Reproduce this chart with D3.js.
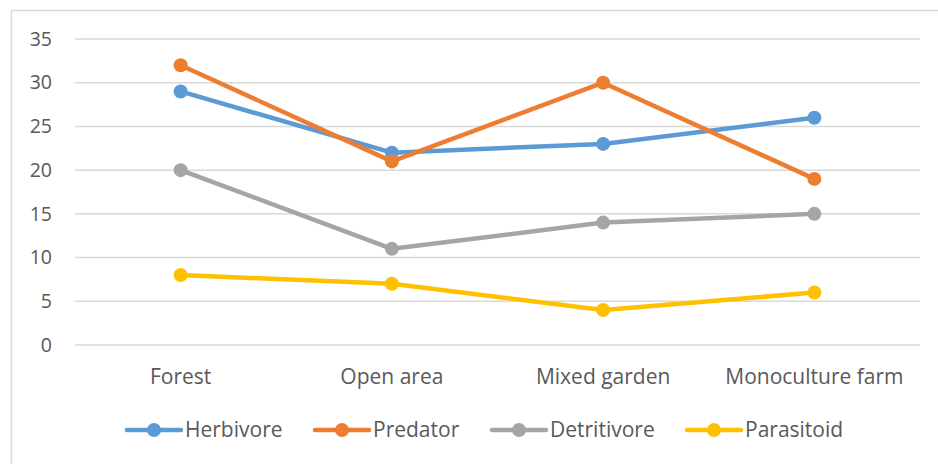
<!DOCTYPE html>
<html>
<head>
<meta charset="utf-8">
<script src="https://cdn.jsdelivr.net/npm/d3@7"></script>
<style>
  body { margin: 0; background: #fff; }
  text { font-family: 'Open Sans', Lato, sans-serif; fill: #595959; }
</style>
</head>
<body>
<script>
const w = 938
const h = 464

// data
const categories = ['Forest', 'Open area', 'Mixed garden', 'Monoculture farm']
const seriesNames = ['Herbivore', 'Predator', 'Detritivore', 'Parasitoid']
const herbivore = [29, 22, 23, 26]
const predator = [32, 21, 30, 19]
const detritivore = [20, 11, 14, 15]
const parasitoid = [8, 7, 4, 6]
const yTicks = [0, 5, 10, 15, 20, 25, 30, 35]
const colors = ['#5B9BD5', '#ED7D31', '#A5A5A5', '#FFC000']

const series = [herbivore, predator, detritivore, parasitoid].map((vals, i) => ({
  name: seriesNames[i], color: colors[i], values: vals
}))

const svg = d3.select('body').append('svg')
  .attr('width', w)
  .attr('height', h)

// chart border (left and top visible)
svg.append('line').attr('x1', 11.5).attr('x2', 11.5).attr('y1', 10).attr('y2', h)
  .attr('stroke', '#d9d9d9').attr('stroke-width', 1.5)
svg.append('line').attr('x1', 11).attr('x2', w).attr('y1', 10.5).attr('y2', 10.5)
  .attr('stroke', '#d9d9d9').attr('stroke-width', 1.5)

const x = d3.scaleBand().domain(categories).range([75, 920])
const y = d3.scaleLinear().domain([0, 35]).range([345, 39])

// gridlines
svg.append('g').selectAll('line')
  .data(yTicks)
  .enter().append('line')
  .attr('x1', 75).attr('x2', 920)
  .attr('y1', d => y(d)).attr('y2', d => y(d))
  .attr('stroke', '#d9d9d9').attr('stroke-width', 1.5)

// y axis
const yAxis = svg.append('g')
  .attr('transform', 'translate(52,0)')
  .call(d3.axisLeft(y).tickValues(yTicks).tickSize(0).tickPadding(0))
yAxis.select('.domain').remove()
yAxis.selectAll('text').attr('font-size', 19.5).attr('font-family', null)

// x axis
const xAxis = svg.append('g')
  .attr('transform', 'translate(0,345)')
  .call(d3.axisBottom(x).tickSize(0).tickPadding(24))
xAxis.select('.domain').remove()
xAxis.selectAll('text').attr('font-size', 21).attr('font-family', null)

const line = d3.line()
  .x((d, i) => x(categories[i]) + x.bandwidth() / 2)
  .y(d => y(d))

// lines and markers
series.forEach(s => {
  svg.append('path')
    .datum(s.values)
    .attr('d', line)
    .attr('fill', 'none')
    .attr('stroke', s.color)
    .attr('stroke-width', 4.5)
    .attr('stroke-linejoin', 'round')
    .attr('stroke-linecap', 'round')
  svg.append('g').selectAll('circle')
    .data(s.values)
    .enter().append('circle')
    .attr('cx', (d, i) => x(categories[i]) + x.bandwidth() / 2)
    .attr('cy', d => y(d))
    .attr('r', 7)
    .attr('fill', s.color)
})

// legend
const legendX = [127, 315, 492, 687]
const legend = svg.append('g').selectAll('g')
  .data(series)
  .enter().append('g')
  .attr('transform', (d, i) => 'translate(' + legendX[i] + ',430)')
legend.append('line')
  .attr('x1', 0).attr('x2', 54).attr('y1', 0).attr('y2', 0)
  .attr('stroke', d => d.color).attr('stroke-width', 4.5)
  .attr('stroke-linecap', 'round')
legend.append('circle')
  .attr('cx', 27).attr('r', 7)
  .attr('fill', d => d.color)
legend.append('text')
  .attr('x', 58).attr('dy', '0.35em')
  .attr('font-size', 21)
  .text(d => d.name)
</script>
</body>
</html>
